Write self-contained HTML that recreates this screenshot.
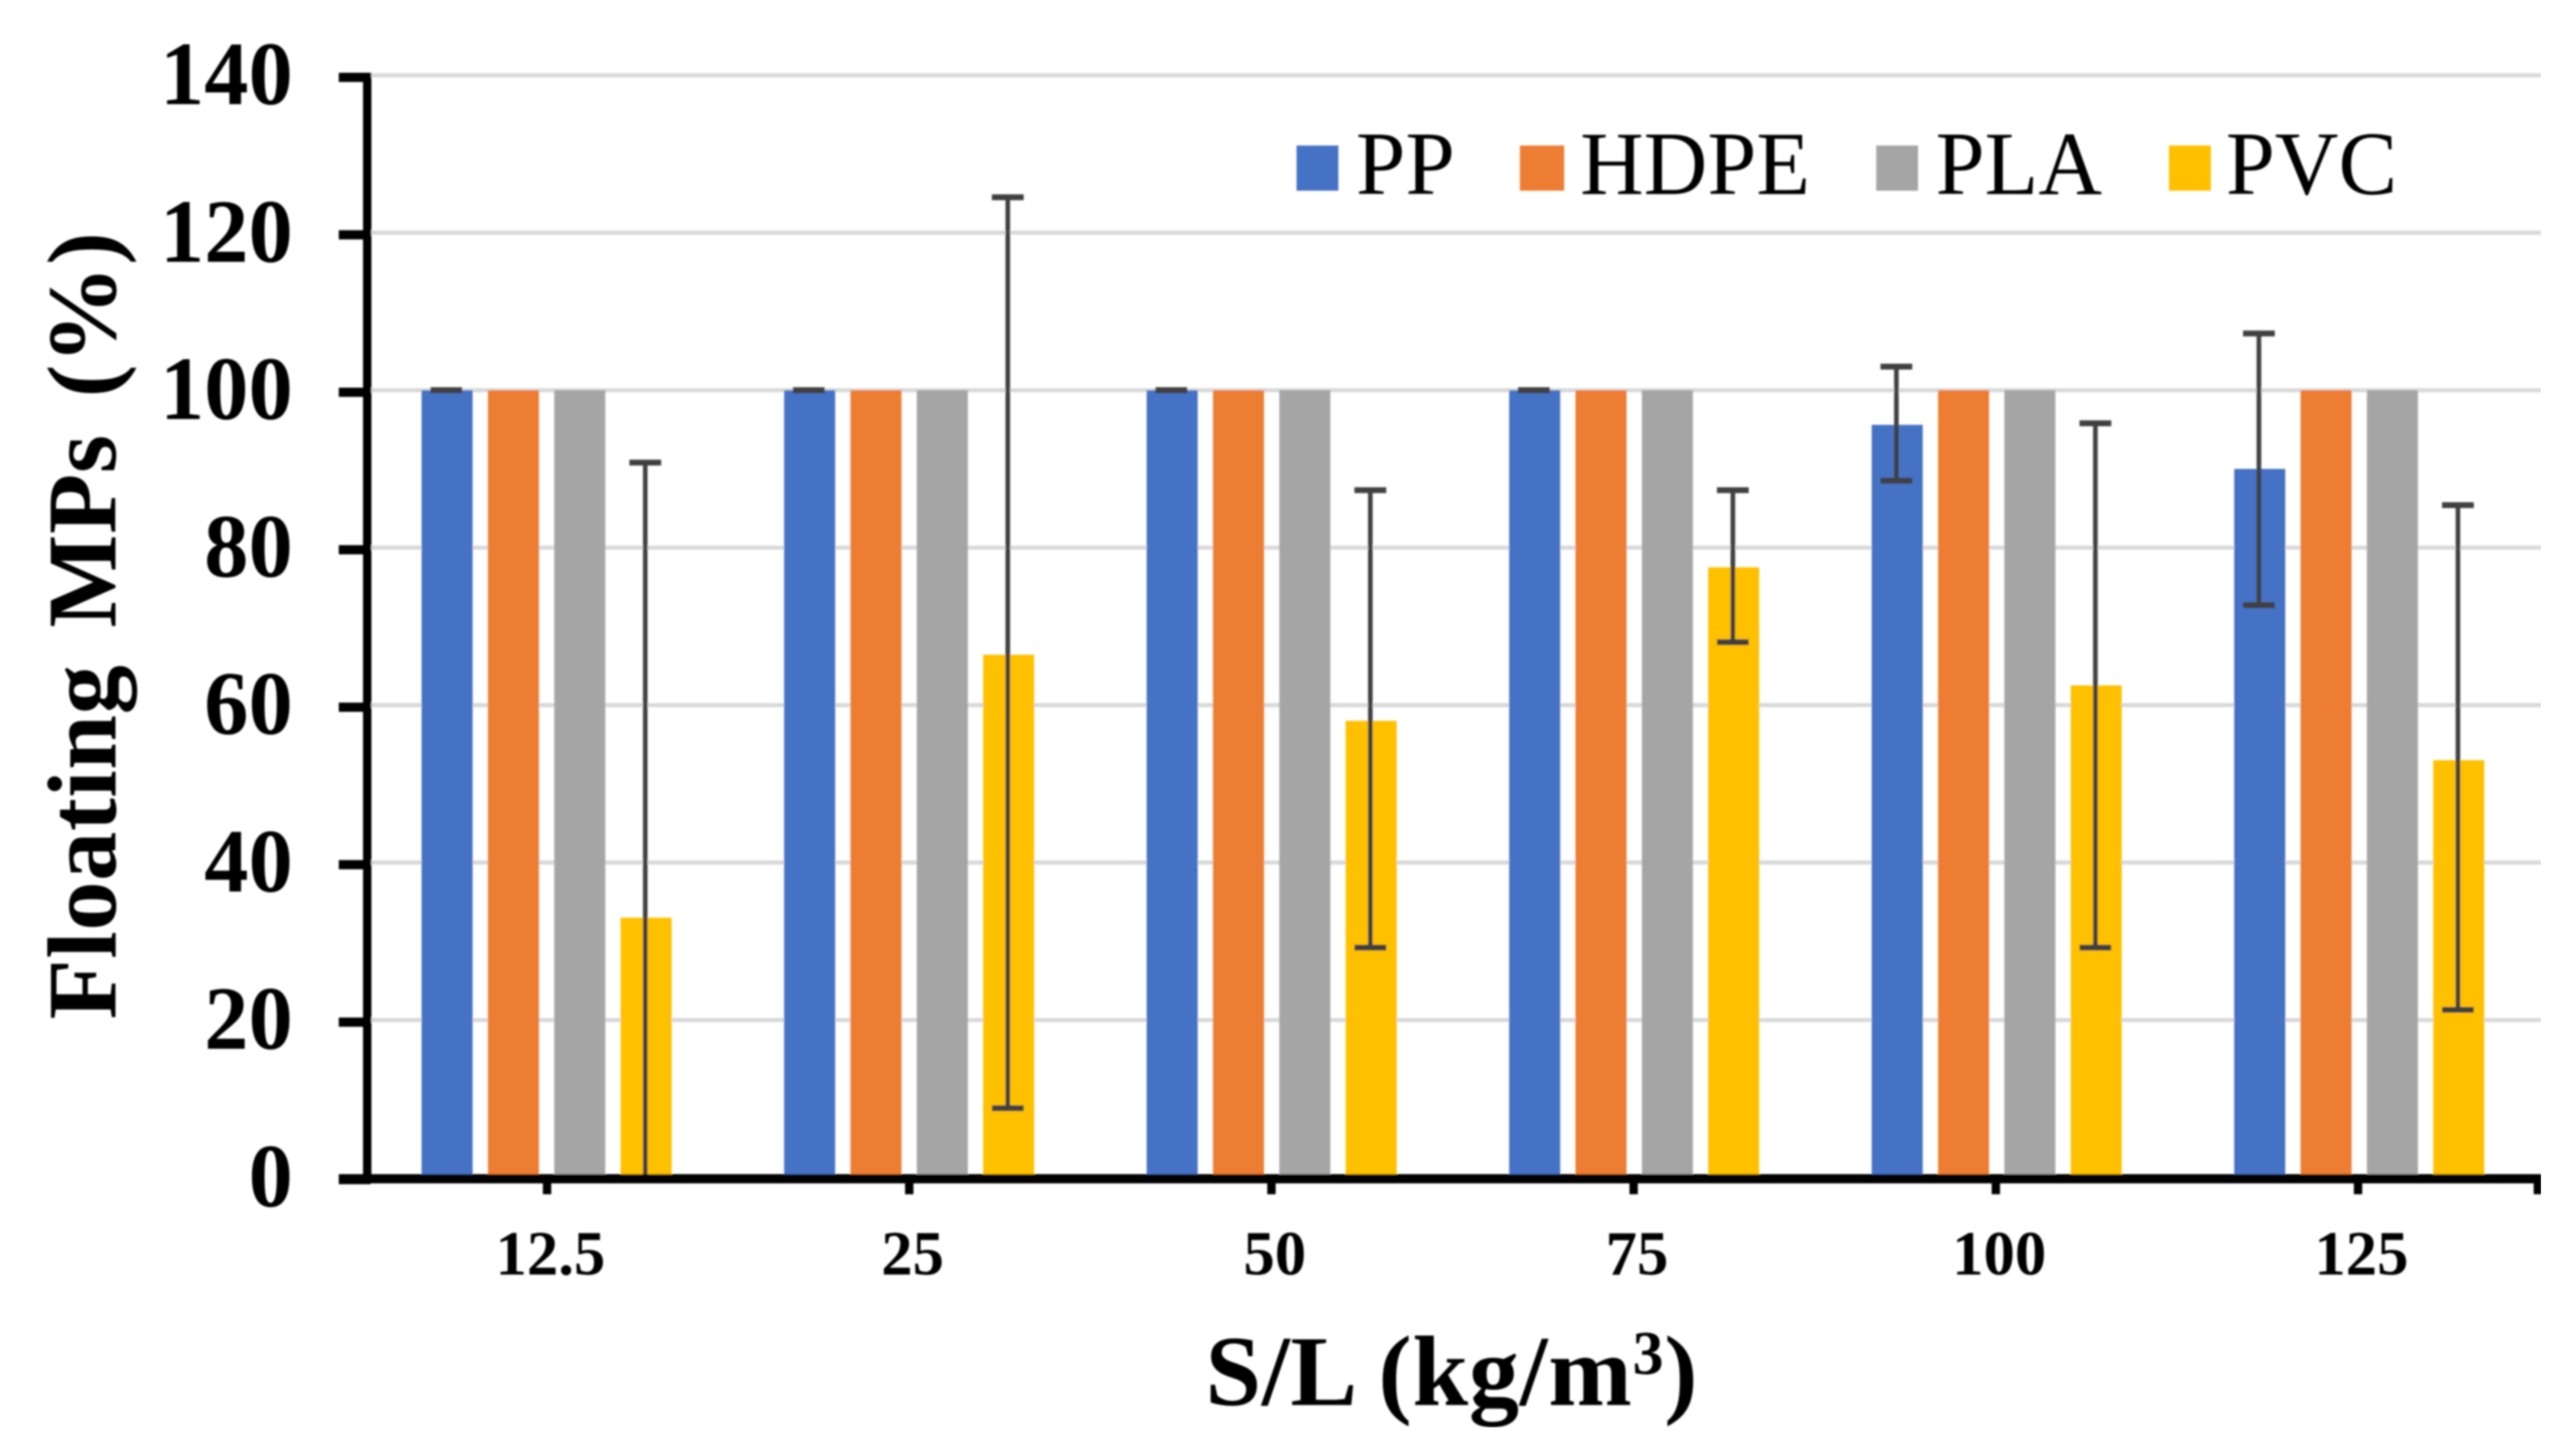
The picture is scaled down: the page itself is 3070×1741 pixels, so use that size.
<!DOCTYPE html>
<html lang="en">
<head>
<meta charset="utf-8">
<title>Floating MPs chart</title>
<style>
html,body{margin:0;padding:0;background:#fff;width:3070px;height:1741px;overflow:hidden}
svg{display:block}
text{font-family:"Liberation Serif",serif;fill:#000}
</style>
</head>
<body>
<svg id="chart" xmlns="http://www.w3.org/2000/svg" width="3070" height="1741" viewBox="0 0 3070 1741">
  <defs><filter id="soft" x="0" y="0" width="100%" height="100%"><feGaussianBlur stdDeviation="1.1"/></filter></defs>
  <rect width="3070" height="1741" fill="#ffffff"/>
  <g id="root" filter="url(#soft)">
    <g id="grid"></g>
    <g id="bars"></g>
    <g id="errors"></g>
    <g id="axes"></g>
    <g id="labels"></g>
    <text transform="translate(138,1219) rotate(-90)" text-anchor="start" font-size="118" word-spacing="14" letter-spacing="0.6" font-weight="700">Floating MPs (%)</text>
    <text x="1441" y="1680" text-anchor="start" font-size="120" letter-spacing="0.8" font-weight="700">S/L (kg/m<tspan font-size="74" dy="-37">3</tspan><tspan dy="37">)</tspan></text>
    <g>
      <g>
        <rect x="1550" y="174" width="50" height="54" fill="#4472c4"/>
        <text transform="translate(1621,232) scale(.985,1)" font-size="108">PP</text>
      </g>
      <g>
        <rect x="1817" y="174" width="53" height="54" fill="#ed7d31"/>
        <text transform="translate(1889,232) scale(.975,1)" font-size="108">HDPE</text>
      </g>
      <g>
        <rect x="2243" y="174" width="50" height="54" fill="#a5a5a5"/>
        <text transform="translate(2314,232) scale(.975,1)" font-size="108">PLA</text>
      </g>
      <g>
        <rect x="2593" y="174" width="50" height="54" fill="#ffc000"/>
        <text transform="translate(2661,232) scale(.975,1)" font-size="108">PVC</text>
      </g>
    </g>
  </g>
</svg>
<script>
const categories = ["12.5", "25", "50", "75", "100", "125"];
const yTicks = [0, 20, 40, 60, 80, 100, 120, 140];
const pp = [100, 100, 100, 100, 95.6, 90];
const hdpe = [100, 100, 100, 100, 100, 100];
const pla = [100, 100, 100, 100, 100, 100];
const pvc = [33, 66.4, 58, 77.5, 62.5, 53];
const ppHigh = [100, 100, 100, 100, 103, 107.2];
const ppLow = [100, 100, 100, 100, 88.5, 72.7];
const pvcHigh = [90.8, 124.5, 87.3, 87.3, 95.8, 85.4];
const pvcLow = [0, 8.8, 29.2, 68, 29.2, 21.3];

const NS = "http://www.w3.org/2000/svg";
const Y0 = 1408, Y140 = 90;
const yScale = v => Y0 - (v / 140) * (Y0 - Y140);
const groupX = i => 504 + 433.4 * i;
const BAR_W = 61, BAR_STEP = 79.3;
const barX = (i, j) => groupX(i) + BAR_STEP * j;
const tickX = i => 654 + 433 * i;

function mk(parent, tag, attrs, txt) {
  const el = document.createElementNS(NS, tag);
  for (const k in attrs) el.setAttribute(k, attrs[k]);
  if (txt !== undefined) el.textContent = txt;
  parent.appendChild(el);
  return el;
}
const gGrid = document.getElementById("grid");
const gBars = document.getElementById("bars");
const gErr = document.getElementById("errors");
const gAxes = document.getElementById("axes");
const gLabels = document.getElementById("labels");

yTicks.forEach(v => {
  if (v > 0) {
    const line = mk(gGrid, "line", {x1: 444, x2: 3038, y1: yScale(v), y2: yScale(v), stroke: "#d9d9d9", "stroke-width": 5});
    
    
  }
  const tick = mk(gAxes, "rect", {x: 405, y: yScale(v) - 3, width: 38, height: 11, fill: "#000"});
  
  
  const label = mk(gLabels, "text", {transform: "translate(350," + (yScale(v) + 34.5) + ") scale(.98,1)", "text-anchor": "end", "font-size": 108, "font-weight": 700}, String(v));
  
  
});

const seriesNames = ["pp", "hdpe", "pla", "pvc"];
const seriesValues = [pp, hdpe, pla, pvc];
const seriesColors = ["#4472c4", "#ed7d31", "#a5a5a5", "#ffc000"];
seriesValues.forEach((vals, j) => {
  vals.forEach((v, i) => {
    const bar = mk(gBars, "rect", {x: barX(i, j), y: yScale(v), width: BAR_W, height: Y0 - yScale(v), fill: seriesColors[j]});
    
    
  });
});

function drawError(i, j, hi, lo, name) {
  const cx = barX(i, j) + BAR_W / 2 - 1;
  const g = mk(gErr, "g", {stroke: "#404040", fill: "none"});
  
  
  mk(g, "line", {x1: cx, x2: cx, y1: yScale(hi), y2: yScale(lo), "stroke-width": 5.5});
  mk(g, "line", {x1: cx - 19, x2: cx + 19, y1: yScale(hi), y2: yScale(hi), "stroke-width": 7});
  mk(g, "line", {x1: cx - 19, x2: cx + 19, y1: yScale(lo), y2: yScale(lo), "stroke-width": 7});
}
categories.forEach((c, i) => {
  drawError(i, 0, ppHigh[i], ppLow[i], "pp");
  drawError(i, 3, pvcHigh[i], pvcLow[i], "pvc");
});

const yAxis = mk(gAxes, "rect", {x: 434, y: 87, width: 10, height: 1328, fill: "#000"});


const xAxis = mk(gAxes, "rect", {x: 405, y: 1404, width: 2633, height: 11, fill: "#000"});


const xEnd = mk(gAxes, "rect", {x: 3029, y: 1404, width: 9, height: 24, fill: "#000"});



categories.forEach((c, i) => {
  const tick = mk(gAxes, "rect", {x: tickX(i) - 5, y: 1404, width: 10, height: 24, fill: "#000"});
  
  
  const label = mk(gLabels, "text", {x: tickX(i) + 4, y: 1524, "text-anchor": "middle", "font-size": 75, "font-weight": 700}, c);
  
  
});
</script>
</body>
</html>
